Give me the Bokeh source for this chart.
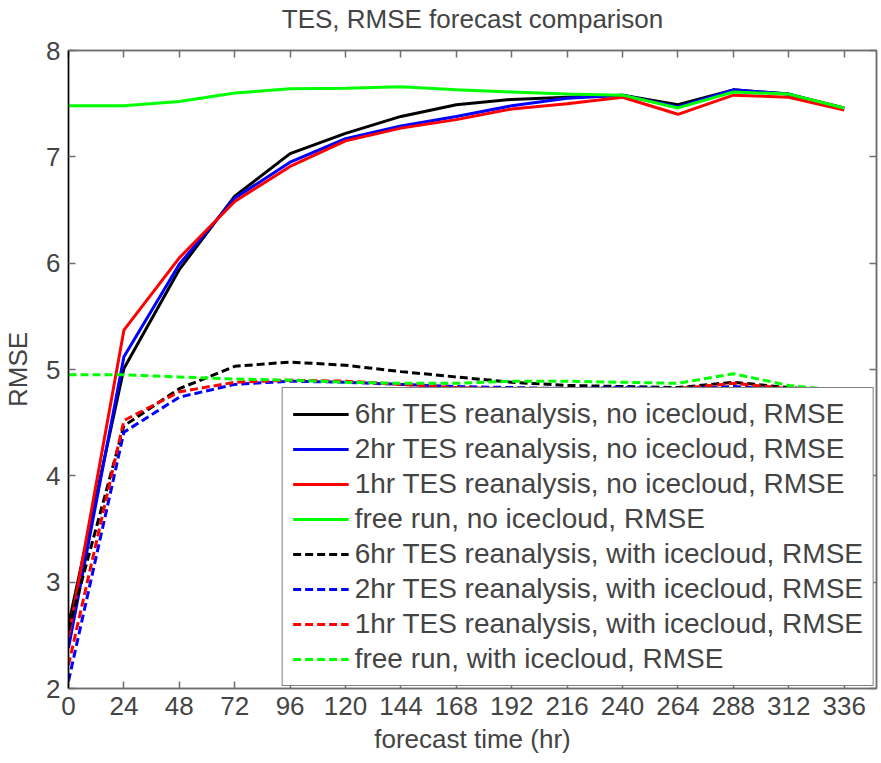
from bokeh.plotting import figure
from bokeh.models import Range1d, LinearAxis, FixedTicker, Legend, LegendItem
from bokeh.embed import file_html
from bokeh.resources import INLINE

hours = [0, 24, 48, 72, 96, 120, 144, 168, 192, 216, 240, 264, 288, 312, 336]

tes6_noice = [2.60, 5.01, 5.94, 6.63, 7.03, 7.22, 7.38, 7.49, 7.54, 7.56, 7.58, 7.49, 7.63, 7.59, 7.46]
tes2_noice = [2.38, 5.12, 5.99, 6.61, 6.95, 7.17, 7.29, 7.38, 7.48, 7.55, 7.58, 7.47, 7.63, 7.59, 7.45]
tes1_noice = [2.48, 5.37, 6.05, 6.58, 6.91, 7.15, 7.27, 7.35, 7.45, 7.50, 7.56, 7.40, 7.58, 7.56, 7.44]
free_noice = [7.48, 7.48, 7.52, 7.60, 7.64, 7.645, 7.66, 7.63, 7.61, 7.59, 7.58, 7.46, 7.61, 7.59, 7.46]

tes6_ice = [2.55, 4.47, 4.82, 5.03, 5.07, 5.04, 4.98, 4.93, 4.88, 4.85, 4.84, 4.83, 4.88, 4.83, 4.80]
tes2_ice = [2.07, 4.41, 4.74, 4.86, 4.89, 4.88, 4.86, 4.84, 4.83, 4.82, 4.83, 4.82, 4.84, 4.81, 4.80]
tes1_ice = [2.22, 4.52, 4.79, 4.88, 4.90, 4.89, 4.86, 4.83, 4.82, 4.82, 4.82, 4.82, 4.87, 4.82, 4.80]
free_ice = [4.95, 4.95, 4.93, 4.91, 4.90, 4.88, 4.87, 4.87, 4.89, 4.89, 4.88, 4.87, 4.96, 4.85, 4.80]

series = [
    ("6hr TES reanalysis, no icecloud, RMSE", tes6_noice, "#000000", "solid"),
    ("2hr TES reanalysis, no icecloud, RMSE", tes2_noice, "#0000ff", "solid"),
    ("1hr TES reanalysis, no icecloud, RMSE", tes1_noice, "#ff0000", "solid"),
    ("free run, no icecloud, RMSE", free_noice, "#00ff00", "solid"),
    ("6hr TES reanalysis, with icecloud, RMSE", tes6_ice, "#000000", "8 4"),
    ("2hr TES reanalysis, with icecloud, RMSE", tes2_ice, "#0000ff", "8 4"),
    ("1hr TES reanalysis, with icecloud, RMSE", tes1_ice, "#ff0000", "8 4"),
    ("free run, with icecloud, RMSE", free_ice, "#00ff00", "8 4"),
]

xticks = list(range(0, 337, 24))
yticks = [2, 3, 4, 5, 6, 7, 8]
title_text = "TES, RMSE forecast comparison"

FONT = "Liberation Sans"
GREY = "#6e6e6e"

p = figure(frame_width=808, frame_height=638, output_backend="svg", toolbar_location=None,
           x_range=Range1d(0, 350), y_range=Range1d(2, 8),
           min_border_left=0, min_border_right=3, min_border_top=0, min_border_bottom=0)
p.grid.visible = False
p.outline_line_color = GREY
p.outline_line_width = 1.5

items = []
for label, ys, color, dash in series:
    r = p.line(hours, ys, line_color=color, line_width=3, line_dash=dash)
    items.append(LegendItem(label=label, renderers=[r]))

xa = p.xaxis[0]
xa.ticker = FixedTicker(ticks=xticks)
xa.axis_label = "forecast time (hr)"
xa.axis_label_text_font = FONT
xa.axis_label_text_font_size = "26px"
xa.axis_label_text_font_style = "normal"
xa.major_label_text_font = FONT
xa.major_label_text_font_size = "26px"
xa.major_label_standoff = 8
xa.axis_label_standoff = 6

ya = p.yaxis[0]
ya.ticker = FixedTicker(ticks=yticks)
ya.axis_label = "RMSE"
ya.axis_label_text_font = FONT
ya.axis_label_text_font_size = "26px"
ya.axis_label_text_font_style = "normal"
ya.major_label_text_font = FONT
ya.major_label_text_font_size = "26px"
ya.major_label_standoff = 8
ya.axis_label_standoff = 10

for ax in (xa, ya):
    ax.major_tick_in = 7
    ax.major_tick_out = 0
    ax.minor_tick_line_color = None
    ax.axis_line_width = 1.5
    ax.major_tick_line_width = 1.5
xa.axis_line_color = GREY
xa.major_tick_line_color = GREY
ya.axis_line_color = "#000000"
ya.major_tick_line_color = GREY

top = LinearAxis(ticker=FixedTicker(ticks=xticks), major_label_text_font_size="1px",
                 major_label_text_color=None, major_label_standoff=0,
                 major_tick_in=7, major_tick_out=0, minor_tick_line_color=None,
                 axis_line_color=GREY, major_tick_line_color=GREY,
                 axis_line_width=1.5, major_tick_line_width=1.5,
                 axis_label=title_text, axis_label_text_font=FONT,
                 axis_label_text_font_size="26px", axis_label_text_font_style="normal",
                 axis_label_standoff=17)
right = LinearAxis(ticker=FixedTicker(ticks=yticks), major_label_text_font_size="1px",
                   major_label_text_color=None, major_label_standoff=0,
                   major_tick_in=7, major_tick_out=0, minor_tick_line_color=None,
                   axis_line_color=GREY, major_tick_line_color=GREY,
                   axis_line_width=1.5, major_tick_line_width=1.5)
p.add_layout(top, "above")
p.add_layout(right, "right")

legend = Legend(items=items, location="bottom_right")
legend.label_text_font = FONT
legend.label_text_font_size = "28px"
legend.glyph_width = 56
legend.glyph_height = 30
legend.label_height = 30
legend.label_standoff = 6
legend.spacing = 3
legend.padding = 10
legend.margin = 2
legend.border_line_color = "#000000"
legend.border_line_width = 1.5
legend.background_fill_alpha = 1.0
p.add_layout(legend)

open("out.html", "w").write(file_html(p, INLINE))
